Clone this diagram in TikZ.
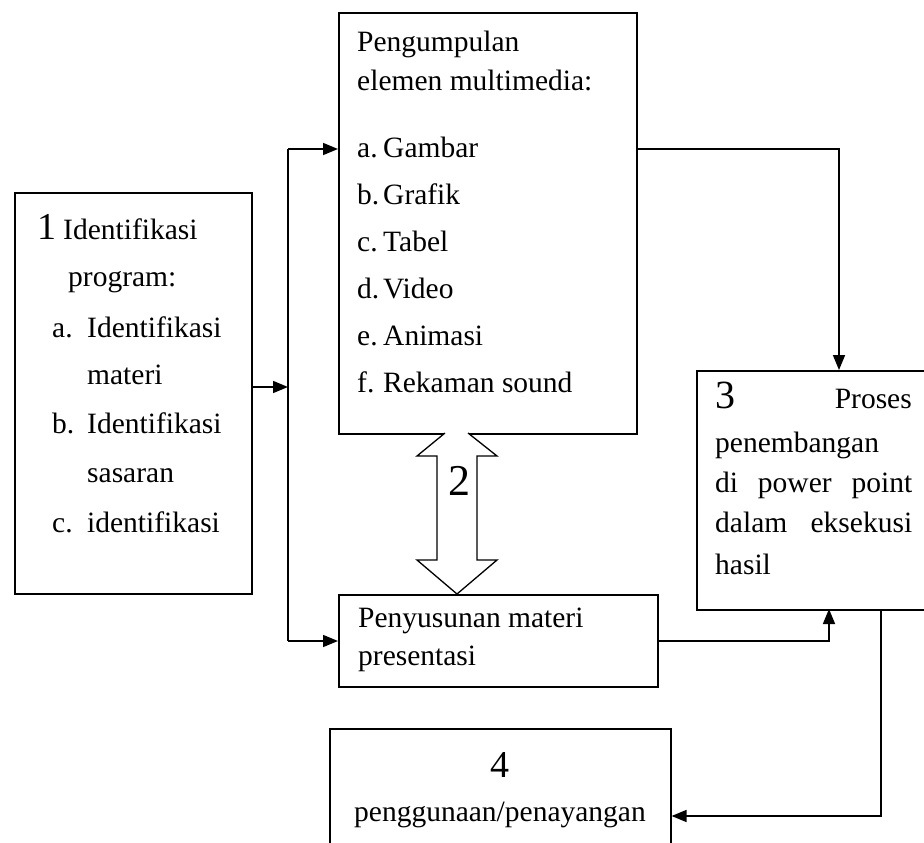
\documentclass[tikz,border=0pt]{standalone}
\usepackage{fontspec}
\setmainfont{Liberation Serif}
\usetikzlibrary{arrows.meta}
\begin{document}
\begin{tikzpicture}[x=1pt,y=-1pt,
  box/.style={draw, line width=1.6pt, anchor=north west, inner sep=0pt},
  txt/.style={anchor=base west, inner sep=0pt, font=\fontsize{29.5}{35}\selectfont},
  num/.style={anchor=base west, inner sep=0pt, font=\fontsize{#1}{#1}\selectfont},
  arr/.style={-{Triangle[length=15pt,width=12pt]}, line width=1.6pt},
  ln/.style={line width=1.6pt}]
\useasboundingbox (0,0) rectangle (924,843);
% boxes
\node[box, minimum width=237pt, minimum height=401pt] (b1) at (14,192) {};
\node[box, minimum width=298pt, minimum height=421pt] (b2) at (338,12) {};
\node[box, minimum width=319pt, minimum height=92pt] (b3) at (338,594) {};
\node[box, minimum width=240pt, minimum height=239pt] (b4) at (696,370) {};
\node[box, minimum width=341pt, minimum height=140pt] (b5) at (329,728) {};
% box 1 text
\node[num=38] (t1n) at (37,239) {1};
\node[txt] (t1a) at (63,239) {Identifikasi};
\node[txt] (t1b) at (68,286) {program:};
\node[txt] (t1c) at (52,337) {a.};
\node[txt] (t1d) at (87,337) {Identifikasi};
\node[txt] (t1e) at (87,384) {materi};
\node[txt] (t1f) at (52,433) {b.};
\node[txt] (t1g) at (87,433) {Identifikasi};
\node[txt] (t1h) at (87,482) {sasaran};
\node[txt] (t1i) at (52,532) {c.};
\node[txt] (t1j) at (87,532) {identifikasi};
% box 2 text
\node[txt] (t2a) at (357,52) {Pengumpulan};
\node[txt] (t2b) at (357,91) {elemen multimedia:};
\node[txt] (t2c) at (357,157) {a.};
\node[txt] (t2d) at (383,157) {Gambar};
\node[txt] (t2e) at (357,204) {b.};
\node[txt] (t2f) at (383,204) {Grafik};
\node[txt] (t2g) at (357,251) {c.};
\node[txt] (t2h) at (383,251) {Tabel};
\node[txt] (t2i) at (357,298) {d.};
\node[txt] (t2j) at (383,298) {Video};
\node[txt] (t2k) at (357,345) {e.};
\node[txt] (t2l) at (383,345) {Animasi};
\node[txt] (t2m) at (357,392) {f.};
\node[txt] (t2n) at (383,392) {Rekaman sound};
% penyusunan text
\node[txt] (t3a) at (358,627) {Penyusunan materi};
\node[txt] (t3b) at (358,665) {presentasi};
% box 3 text
\node[num=40] (t4n) at (715,408) {3};
\node[txt, anchor=base east] (t4a) at (912,408) {Proses};
\node[txt] (t4b) at (715,452) {penembangan};
\node[txt] (t4c) at (715,492) {\hbox to 197pt{di\hfill power\hfill point}};
\node[txt] (t4d) at (715,532) {\hbox to 197pt{dalam\hfill eksekusi}};
\node[txt] (t4e) at (715,574) {hasil};
% box 4 text
\node[num=38, anchor=base] (t5n) at (500,777) {4};
\node[txt, anchor=base] (t5a) at (500,821) {penggunaan/penayangan};
% double arrow 2
\draw[line width=1.3pt, fill=white] (445,433) -- (417,456) -- (437,456) -- (437,560) -- (417,560) -- (457,594) -- (497,560) -- (477,560) -- (477,456) -- (497,456) -- (468,433);
\node[num=44, anchor=base] (t6) at (459,495) {2};
% connectors
\coordinate (jt) at (288,149);
\coordinate (jm) at (288,387);
\coordinate (jb) at (288,641);
\coordinate (p3t) at (839,370);
\coordinate (p3b) at (829,609);
\coordinate (p3c) at (881,609);
\coordinate (q) at (881,816);
\draw[ln] (jt) -- (jb);
\draw[arr] (b1.east |- jm) -- (jm);
\draw[arr] (jt) -- (jt -| b2.west);
\draw[arr] (jb) -- (jb -| b3.west);
\draw[arr] (b2.east |- jt) -| (p3t);
\draw[arr] (b3.east |- jb) -| (p3b);
\draw[arr] (p3c) |- (q -| b5.east);
\end{tikzpicture}
\end{document}
